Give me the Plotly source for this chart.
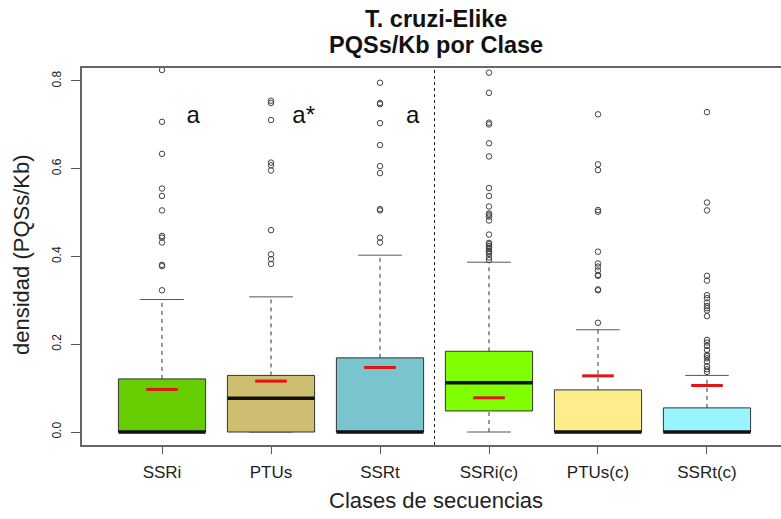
import plotly.graph_objects as go

# Sequence classes and their summary statistics (PQSs per Kb)
categories = ["SSRi", "PTUs", "SSRt", "SSRi(c)", "PTUs(c)", "SSRt(c)"]
q1 = [0.0, 0.0, 0.0, 0.048, 0.0, 0.0]
median = [0.0, 0.077, 0.0, 0.112, 0.0, 0.0]
q3 = [0.121, 0.129, 0.169, 0.184, 0.096, 0.055]
lower_whisker = [0.0, 0.0, 0.0, 0.0, 0.0, 0.0]
upper_whisker = [0.302, 0.308, 0.403, 0.387, 0.233, 0.129]
means = [0.097, 0.116, 0.147, 0.078, 0.128, 0.106]
box_colors = ["#66CD00", "#CDBE70", "#7AC5CD", "#7FFF00", "#FFEC8B", "#98F5FF"]

outliers = [
    [0.825, 0.707, 0.634, 0.555, 0.538, 0.505, 0.447, 0.443, 0.432, 0.381, 0.378, 0.323],
    [0.755, 0.750, 0.711, 0.614, 0.608, 0.596, 0.460, 0.405, 0.394, 0.383],
    [0.796, 0.750, 0.747, 0.704, 0.654, 0.606, 0.590, 0.508, 0.505, 0.443, 0.432],
    [0.819, 0.773, 0.705, 0.701, 0.658, 0.628, 0.556, 0.538, 0.514, 0.498, 0.495,
     0.491, 0.482, 0.450, 0.431, 0.428, 0.424, 0.420, 0.417, 0.413, 0.410, 0.406,
     0.398, 0.392],
    [0.724, 0.610, 0.597, 0.506, 0.502, 0.411, 0.384, 0.377, 0.368, 0.358, 0.356,
     0.325, 0.323, 0.249],
    [0.729, 0.523, 0.505, 0.356, 0.345, 0.312, 0.305, 0.295, 0.287, 0.282, 0.277,
     0.264, 0.210, 0.204, 0.196, 0.187, 0.176, 0.173, 0.168, 0.160, 0.150, 0.143,
     0.137],
]

# Significance letters shown beside the first three classes
sig_labels = ["a", "a*", "a"]
sig_x = [1.285, 2.30, 3.30]
sig_y = [0.718, 0.718, 0.718]

y_tickvals = [0.0, 0.2, 0.4, 0.6, 0.8]
y_ticktext = ["0.0", "0.2", "0.4", "0.6", "0.8"]

title_lines = ["T. cruzi-Elike", "PQSs/Kb por Clase"]

BOX_HALF = 0.4
CAP_HALF = 0.2
MEAN_HALF = 0.145
FONT = "Liberation Sans, Arial, Helvetica, sans-serif"

# Plot area in pixels (used to place the free-standing texts)
PLOT_TOP, PLOT_BOTTOM, PLOT_LEFT, PLOT_W = 68, 445, 82, 699
PLOT_H = PLOT_BOTTOM - PLOT_TOP

positions = list(range(1, len(categories) + 1))

fig = go.Figure()

# Dashed whiskers (both sides of each box)
wx, wy = [], []
for p, lo, a, b, hi in zip(positions, lower_whisker, q1, q3, upper_whisker):
    wx += [p, p, None, p, p, None]
    wy += [lo, a, None, b, hi, None]
fig.add_trace(go.Scatter(x=wx, y=wy, mode="lines",
                         line=dict(color="#333333", width=1, dash="4px,4px"),
                         hoverinfo="skip", showlegend=False))

# Whisker caps
cx, cy = [], []
for p, lo, hi in zip(positions, lower_whisker, upper_whisker):
    cx += [p - CAP_HALF, p + CAP_HALF, None, p - CAP_HALF, p + CAP_HALF, None]
    cy += [lo, lo, None, hi, hi, None]
fig.add_trace(go.Scatter(x=cx, y=cy, mode="lines",
                         line=dict(color="#555555", width=1),
                         hoverinfo="skip", showlegend=False))

# Boxes from Q1 to Q3
for p, a, b, col, name in zip(positions, q1, q3, box_colors, categories):
    fig.add_trace(go.Scatter(
        x=[p - BOX_HALF, p + BOX_HALF, p + BOX_HALF, p - BOX_HALF, p - BOX_HALF],
        y=[a, a, b, b, a],
        mode="lines", fill="toself", fillcolor=col,
        line=dict(color="#333333", width=1),
        name=name, showlegend=False))

# Medians
mx, my = [], []
for p, m in zip(positions, median):
    mx += [p - BOX_HALF, p + BOX_HALF, None]
    my += [m, m, None]
fig.add_trace(go.Scatter(x=mx, y=my, mode="lines",
                         line=dict(color="#111111", width=3.5),
                         hoverinfo="skip", showlegend=False))

# Means
ax_, ay_ = [], []
for p, m in zip(positions, means):
    ax_ += [p - MEAN_HALF, p + MEAN_HALF, None]
    ay_ += [m, m, None]
fig.add_trace(go.Scatter(x=ax_, y=ay_, mode="lines",
                         line=dict(color="#E01515", width=3),
                         hoverinfo="skip", showlegend=False))

# Outliers
ox, oy = [], []
for p, vals in zip(positions, outliers):
    ox += [p] * len(vals)
    oy += vals
fig.add_trace(go.Scatter(x=ox, y=oy, mode="markers",
                         marker=dict(symbol="circle-open", size=5.5,
                                     color="#444444", line=dict(width=1)),
                         showlegend=False))

# Significance letters
fig.add_trace(go.Scatter(x=sig_x, y=sig_y, mode="text", text=sig_labels,
                         textfont=dict(family=FONT, size=24, color="#111111"),
                         textposition="middle center",
                         hoverinfo="skip", showlegend=False))

# Separator between the two groups of classes
fig.add_shape(type="line", xref="x", yref="paper", x0=3.5, x1=3.5, y0=0, y1=1,
              line=dict(color="#222222", width=1, dash="3px,3px"))

annotations = [
    dict(text=f"<b>{title_lines[0]}</b>", xref="paper", yref="paper",
         x=(436 - PLOT_LEFT) / PLOT_W, y=(PLOT_BOTTOM - 19) / PLOT_H,
         xanchor="center", yanchor="middle", showarrow=False,
         font=dict(family=FONT, size=23.5, color="#111111")),
    dict(text=f"<b>{title_lines[1]}</b>", xref="paper", yref="paper",
         x=(436 - PLOT_LEFT) / PLOT_W, y=(PLOT_BOTTOM - 45) / PLOT_H,
         xanchor="center", yanchor="middle", showarrow=False,
         font=dict(family=FONT, size=23.5, color="#111111")),
    dict(text="densidad (PQSs/Kb)", xref="paper", yref="paper",
         x=(21 - PLOT_LEFT) / PLOT_W, y=(PLOT_BOTTOM - 255) / PLOT_H,
         xanchor="center", yanchor="middle", textangle=-90, showarrow=False,
         font=dict(family=FONT, size=22, color="#222222")),
    dict(text="Clases de secuencias", xref="paper", yref="paper",
         x=(436 - PLOT_LEFT) / PLOT_W, y=(PLOT_BOTTOM - 500) / PLOT_H,
         xanchor="center", yanchor="middle", showarrow=False,
         font=dict(family=FONT, size=22, color="#222222")),
]

fig.update_layout(
    width=781, height=519,
    margin=dict(l=PLOT_LEFT, r=0, t=PLOT_TOP, b=519 - PLOT_BOTTOM),
    paper_bgcolor="white", plot_bgcolor="white",
    font=dict(family=FONT, color="#222222"),
    xaxis=dict(range=[0.266, 6.679], tickvals=positions, ticktext=categories,
               showgrid=False, zeroline=False, showline=True, mirror=True,
               linecolor="#666666", linewidth=1.5, ticks="outside", ticklen=7,
               tickcolor="#555555", ticklabelstandoff=4,
               tickfont=dict(size=17, color="#222222")),
    yaxis=dict(range=[-0.0296, 0.8296], tickvals=y_tickvals, ticktext=y_ticktext,
               tickangle=-90, showgrid=False, zeroline=False, showline=True,
               linecolor="#666666", linewidth=1.5, ticks="outside", ticklen=9,
               tickcolor="#555555", ticklabelstandoff=5,
               tickfont=dict(size=12, color="#222222")),
    annotations=annotations,
)

fig.write_html("out.html")
